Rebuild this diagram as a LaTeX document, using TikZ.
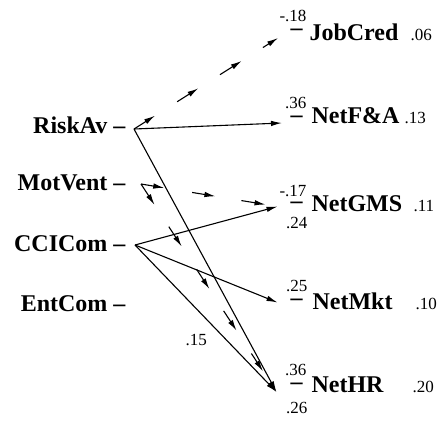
\documentclass[tikz,border=0pt]{standalone}
\usepackage{fontspec}
\setmainfont{Liberation Serif}
\usepackage{tikz}
\usetikzlibrary{calc}
\usetikzlibrary{arrows.meta}
\tikzset{>={Latex[length=11pt,width=5.5pt]}}
\tikzset{var/.style={inner sep=0pt,font=\bfseries\fontsize{24}{28}\selectfont},
  coef/.style={inner sep=0pt,font=\fontsize{17}{19}\selectfont}}

\begin{document}
\begin{tikzpicture}[x=1pt,y=-1pt,line width=1.1pt]
  \useasboundingbox (0,0) rectangle (438,424);
  % predictors
  \node[var,anchor=base east] (riskav) at (126,133) {RiskAv –};
  \node[var,anchor=base east] (motvent) at (126,190) {MotVent –};
  \node[var,anchor=base east] (ccicom) at (126,251) {CCICom –};
  \node[var,anchor=base east] (entcom) at (126,311) {EntCom –};
  % outcomes
  \node[var,anchor=base west] (jobcreddash) at (290,35.5) {–};
  \node[var,anchor=base west] (jobcred) at (309,40) {JobCred};
  \node[var,anchor=base west] (netfadash) at (290,122.5) {–};
  \node[var,anchor=base west] (netfa) at (311,123) {NetF\&A};
  \node[var,anchor=base west] (netgmsdash) at (290,208.5) {–};
  \node[var,anchor=base west] (netgms) at (311,211) {NetGMS};
  \node[var,anchor=base west] (netmktdash) at (290,305.5) {–};
  \node[var,anchor=base west] (netmkt) at (312,309) {NetMkt};
  \node[var,anchor=base west] (nethrdash) at (290,389.5) {–};
  \node[var,anchor=base west] (nethr) at (311,392) {NetHR};
  % coefficients
  \node[coef,anchor=base east] (c18) at (307,21.5) {-.18};
  \node[coef,anchor=base east] (c36a) at (307,108) {.36};
  \node[coef,anchor=base east] (c17) at (307,196.5) {-.17};
  \node[coef,anchor=base east] (c24) at (308,228) {.24};
  \node[coef,anchor=base east] (c25) at (308,291.5) {.25};
  \node[coef,anchor=base east] (c36b) at (307,375) {.36};
  \node[coef,anchor=base east] (c26) at (308,413) {.26};
  \node[coef,anchor=base west] (c15) at (185,345.5) {.15};
  % r squared
  \node[coef,anchor=base west] (r06) at (410,40) {.06};
  \node[coef,anchor=base west] (r13) at (404,123) {.13};
  \node[coef,anchor=base west] (r11) at (413,211) {.11};
  \node[coef,anchor=base west] (r10) at (415,309) {.10};
  \node[coef,anchor=base west] (r20) at (412,392) {.20};
  % line ends
  \coordinate (riskav-o) at (134,129);
  \coordinate (motvent-o) at (141,184);
  \coordinate (ccicom-o) at (135,245);
  \coordinate (jobcred-i) at (278,38);
  \coordinate (netfa-i) at (282,123);
  \coordinate (netgms-i) at (277.5,206.5);
  \coordinate (netmkt-i) at (277.5,302.5);
  \coordinate (nethr-i) at (276.5,392);
  % paths
  \draw[->] (riskav-o) -- (netfa-i);
  \draw[->] (riskav-o) -- (nethr-i);
  \draw[->] (ccicom-o) -- (netgms-i);
  \draw[->] (ccicom-o) -- (netmkt-i);
  \draw[->] (ccicom-o) -- (nethr-i);
  % broken paths
  \foreach \s/\e in {0/.146,.30/.447,.597/.748,.895/1}
    \draw[->] ($(riskav-o)!\s!(jobcred-i)$) -- ($(riskav-o)!\e!(jobcred-i)$);
  \foreach \s/\e in {0/.17,.375/.545,.735/.912}
    \draw[->] ($(motvent-o)!\s!(netgms-i)$) -- ($(motvent-o)!\e!(netgms-i)$);
  \foreach \s/\e in {0/.10,.205/.30,.41/.505,.61/.705,.815/.90}
    \draw[->] ($(motvent-o)!\s!(nethr-i)$) -- ($(motvent-o)!\e!(nethr-i)$);
\end{tikzpicture}
\end{document}
